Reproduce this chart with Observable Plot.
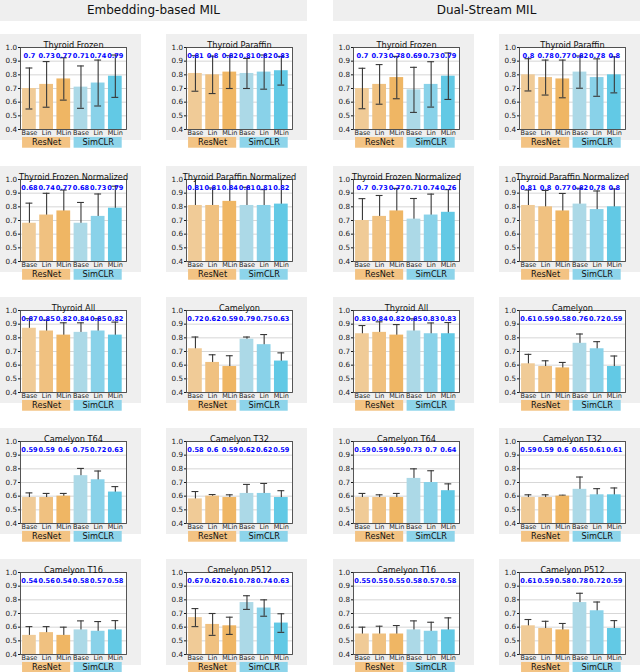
<!DOCTYPE html>
<html><head><meta charset="utf-8">
<script src="https://cdn.jsdelivr.net/npm/d3@7"></script>
<script src="https://cdn.jsdelivr.net/npm/@observablehq/plot@0.6"></script>
<style>
html,body{margin:0;padding:0;background:#fff;}
#root{position:relative;width:640px;height:672px;overflow:hidden;font-family:"DejaVu Sans",sans-serif;}
.hdr{position:absolute;top:0;height:21px;width:307px;background:#efefef;font-size:12px;line-height:21px;text-align:center;color:#111;}
.bg{position:absolute;background:#efefef;}
</style></head><body><div id="root"></div>
<script>
// ---------- data ----------
const methods = ["Embedding-based MIL", "Dual-Stream MIL"];
const panelTitles = ["Thyroid Frozen","Thyroid Paraffin","Thyroid Frozen Normalized","Thyroid Paraffin Normalized","Thyroid All","Camelyon","Camelyon T64","Camelyon T32","Camelyon T16","Camelyon P512"];
const barLabels = ["Base","Lin","MLin","Base","Lin","MLin"];
const groups = ["ResNet","SimCLR"];
const yTicks = [0.4,0.5,0.6,0.7,0.8,0.9,1.0];

const embValues = [
  [0.7,0.73,0.77,0.71,0.74,0.79],
  [0.81,0.8,0.82,0.81,0.82,0.83],
  [0.68,0.74,0.77,0.68,0.73,0.79],
  [0.81,0.81,0.84,0.81,0.81,0.82],
  [0.87,0.85,0.82,0.84,0.85,0.82],
  [0.72,0.62,0.59,0.79,0.75,0.63],
  [0.59,0.59,0.6,0.75,0.72,0.63],
  [0.58,0.6,0.59,0.62,0.62,0.59],
  [0.54,0.56,0.54,0.58,0.57,0.58],
  [0.67,0.62,0.61,0.78,0.74,0.63]
];
const embErrors = [
  [0.15,0.167,0.155,0.155,0.168,0.155],
  [0.13,0.137,0.12,0.11,0.125,0.105],
  [0.147,0.159,0.153,0.152,0.164,0.161],
  [0.2,0.128,0.17,0.133,0.116,0.18],
  [0.07,0.08,0.09,0.07,0.09,0.095],
  [0.086,0.056,0.079,0.016,0.074,0.06],
  [0.034,0.03,0.02,0.053,0.064,0.04],
  [0.054,0.012,0.02,0.066,0.073,0.05],
  [0.064,0.044,0.06,0.066,0.071,0.068],
  [0.066,0.08,0.063,0.05,0.06,0.068]
];
const dualValues = [
  [0.7,0.73,0.78,0.69,0.73,0.79],
  [0.8,0.78,0.77,0.82,0.78,0.8],
  [0.7,0.73,0.77,0.71,0.74,0.76],
  [0.81,0.8,0.77,0.82,0.78,0.8],
  [0.83,0.84,0.82,0.85,0.83,0.83],
  [0.61,0.59,0.58,0.76,0.72,0.59],
  [0.59,0.59,0.59,0.73,0.7,0.64],
  [0.59,0.59,0.6,0.65,0.61,0.61],
  [0.55,0.55,0.55,0.58,0.57,0.58],
  [0.61,0.59,0.58,0.78,0.72,0.59]
];
const dualErrors = [
  [0.148,0.145,0.155,0.165,0.166,0.17],
  [0.118,0.128,0.138,0.118,0.137,0.132],
  [0.16,0.153,0.165,0.151,0.153,0.166],
  [0.113,0.12,0.128,0.116,0.136,0.131],
  [0.06,0.077,0.077,0.089,0.079,0.082],
  [0.069,0.042,0.04,0.068,0.052,0.077],
  [0.03,0.02,0.03,0.07,0.086,0.05],
  [0.02,0.02,0.007,0.09,0.045,0.05],
  [0.05,0.057,0.062,0.066,0.066,0.088],
  [0.046,0.053,0.047,0.068,0.064,0.058]
];
// panels whose error bars are drawn over the bars (both caps visible)
const embErrOnTop  = [true,true,false,false,false,false,false,false,false,true];
const dualErrOnTop = [true,true,false,false,false,false,false,false,false,false];

const barColors = ["#f0cb97","#f0c180","#efb664","#acd9e7","#89d2e9","#62c9e5"];
const groupColors = ["#f3c383","#8dd4ea"];

// ---------- layout ----------
const colX = [0,166,333,499];
const rowY = [34,166,297,428,559];
const panelW = 141, bgH = 106, svgH = 116;
const YMIN = 0.4, YMAX = 1.0;
const GY1 = YMIN - 0.137, GY2 = YMIN - 0.058;
const fmt = v => String(Math.round(v*100)/100);

const root = document.getElementById("root");
methods.forEach((m, k) => {
  const h = document.createElement("div");
  h.className = "hdr";
  h.style.left = (k === 0 ? 0 : 333) + "px";
  h.textContent = m;
  root.appendChild(h);
});

function panel(title, vals, errs, onTop) {
  const rows = vals.map((v, i) => ({i, v, e: errs[i]}));
  const gRows = groups.map((g, k) => ({g, k, a: k*3, b: k*3+2}));
  const errStroke = "#383838";
  const errMarks = [
    Plot.ruleX(rows, {x: "i", y1: d => d.v - d.e, y2: d => d.v + d.e, stroke: errStroke, strokeWidth: 1.1, clip: true}),
    Plot.ruleY(rows, {x1: d => d.i - 0.2, x2: d => d.i + 0.2, y: d => d.v + d.e, stroke: errStroke, strokeWidth: 1.1, clip: true}),
    Plot.ruleY(rows, {x1: d => d.i - 0.2, x2: d => d.i + 0.2, y: d => d.v - d.e, stroke: errStroke, strokeWidth: 1.1, clip: true})
  ];
  const bars = Plot.rectY(rows, {x1: d => d.i - 0.4, x2: d => d.i + 0.4, y1: d => YMIN, y2: "v", fill: d => barColors[d.i]});
  return Plot.plot({
    width: panelW, height: svgH,
    marginTop: 13, marginBottom: svgH - 95, marginLeft: 20, marginRight: 15,
    style: {background: "transparent", overflow: "visible", fontFamily: "DejaVu Sans, sans-serif", color: "#1a1a1a"},
    x: {type: "linear", domain: [-0.52, 5.65]},
    y: {domain: [YMIN, YMAX]},
    color: {type: "identity"},
    marks: [
      Plot.frame({fill: "white"}),
      Plot.ruleY(yTicks, {stroke: "#d2d2d2", strokeWidth: 0.9}),
      ...(onTop ? [bars, ...errMarks] : [...errMarks, bars]),
      Plot.frame({stroke: "#444", strokeWidth: 0.9}),
      Plot.axisX({ticks: d3.range(6), tickFormat: i => barLabels[i], tickSize: 0, tickPadding: 1, fontSize: 6.5, label: null}),
      Plot.axisY({ticks: yTicks, tickFormat: d3.format(".1f"), tickSize: 2, tickPadding: 1.5, fontSize: 7.2, label: null}),
      Plot.text(rows, {x: "i", text: d => fmt(d.v), frameAnchor: "top", dy: 5.5, fill: "#0000ff", fontWeight: "bold", fontSize: 6.6}),
      Plot.text([title], {text: d => d, frameAnchor: "top", dy: -5.5, fontSize: 8.2, fill: "#111"}),
      Plot.rect(gRows, {x1: d => d.a - 0.4, x2: d => d.b + 0.4, y1: d => GY1, y2: d => GY2, fill: d => groupColors[d.k]}),
      Plot.text(gRows, {x: d => (d.a + d.b) / 2, y: d => (GY1 + GY2) / 2, text: "g", fontSize: 8.2, fill: "#111"})
    ]
  });
}

const allVals = [embValues, dualValues], allErrs = [embErrors, dualErrors], allTop = [embErrOnTop, dualErrOnTop];
methods.forEach((m, k) => {
  panelTitles.forEach((t, p) => {
    const r = Math.floor(p / 2), c = k * 2 + (p % 2);
    const bg = document.createElement("div");
    bg.className = "bg";
    bg.style.left = colX[c] + "px"; bg.style.top = rowY[r] + "px";
    bg.style.width = panelW + "px"; bg.style.height = bgH + "px";
    root.appendChild(bg);
    const svg = panel(t, allVals[k][p], allErrs[k][p], allTop[k][p]);
    svg.style.position = "absolute";
    svg.style.left = colX[c] + "px"; svg.style.top = rowY[r] + "px";
    root.appendChild(svg);
  });
});
</script></body></html>
